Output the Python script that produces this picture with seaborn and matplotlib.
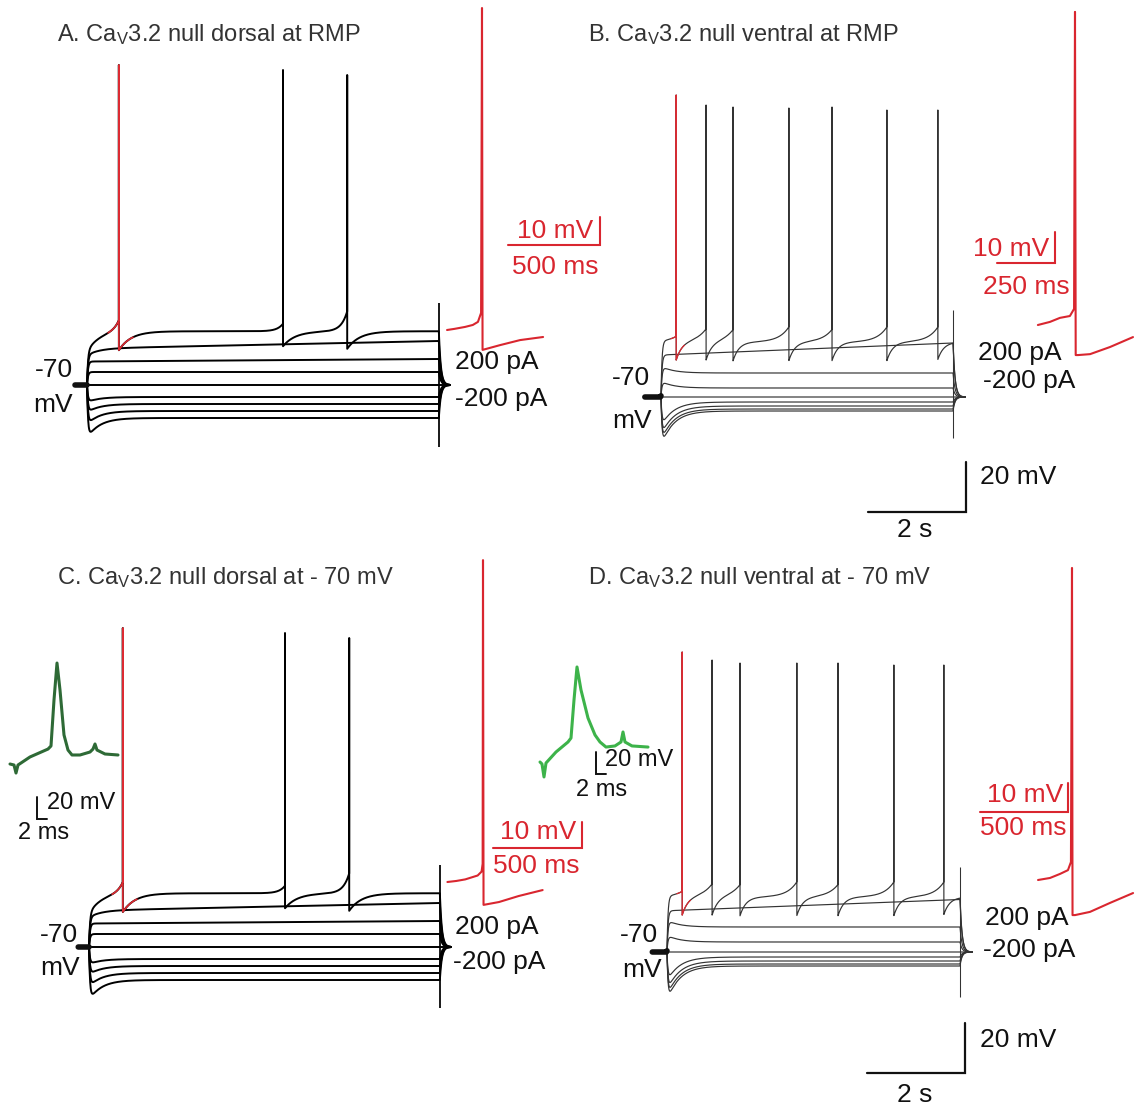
import numpy as np
import matplotlib
matplotlib.use("Agg")
import matplotlib.pyplot as plt
import seaborn as sns

sns.set_theme(style="white")
plt.rcParams['font.family'] = ['Liberation Sans', 'DejaVu Sans']
plt.rcParams['mathtext.fontset'] = 'custom'
plt.rcParams['mathtext.rm'] = 'Liberation Sans'
plt.rcParams['mathtext.it'] = 'Liberation Sans:italic'

W, H = 1136, 1106

# ------------------------------------------------------------------ data
currents_pA = [200, 150, 100, 50, 0, -50, -100, -150, -200]

# Panel A  (dorsal, RMP) - steady level, early sag, slow drift (mV) per current step
A_ss = [-48.5, -52.4, -59.6, -64.8, -70.0, -74.8, -77.6, -80.4, -83.2]
A_sag = [-6.0, -2.0, 0.0, 0.0, 0.0, -1.5, -2.5, -4.0, -6.0]
A_drift = [0.0, 3.0, 1.0, 0.0, 0.0, 0.0, 0.0, 0.0, 0.0]
A_spike_t = [0.65, 4.00, 5.31]
A_spike_peak = [58.0, 56.0, 54.0]
A_spike_pre = [5.0, 3.0, 8.0]
A_spike_ahp = [7.0, 6.0, 7.0]

# Panel B  (ventral, RMP)
B_ss = [-48.0, -48.4, -60.4, -66.4, -70.0, -72.0, -73.6, -74.8, -75.6]
B_sag = [0.0, 0.0, 2.0, 2.0, 0.0, -7.2, -8.8, -9.6, -10.4]
B_drift = [0.0, 4.8, 0.0, 0.0, 0.0, 0.0, 0.0, 0.0, 0.0]
B_spike_t = [0.31, 0.92, 1.47, 2.61, 3.49, 4.61, 5.65]
B_spike_peak = [50.8, 46.8, 46.0, 45.6, 46.0, 44.8, 44.8]
B_spike_pre = [2.0, 5.0, 5.0, 6.0, 5.0, 6.0, 6.0]
B_spike_ahp = [7.5, 7.5, 7.5, 7.5, 7.5, 7.5, 7.0]

# Panel C  (dorsal, -70 mV)
C_ss = [-48.5, -52.4, -59.6, -64.8, -70.0, -74.8, -77.6, -80.4, -83.2]
C_sag = [-6.0, -2.0, 0.0, 0.0, 0.0, -1.5, -2.5, -4.0, -6.0]
C_drift = [0.0, 3.0, 1.0, 0.0, 0.0, 0.0, 0.0, 0.0, 0.0]
C_spike_t = [0.69, 4.00, 5.31]
C_spike_peak = [57.6, 55.6, 53.6]
C_spike_pre = [5.0, 3.0, 8.0]
C_spike_ahp = [7.0, 6.0, 7.0]

# Panel D  (ventral, -70 mV)
D_ss = [-48.0, -49.0, -60.0, -66.0, -70.0, -72.0, -73.6, -74.8, -75.6]
D_sag = [0.0, 0.0, 2.0, 2.0, 0.0, -7.2, -8.8, -9.6, -10.4]
D_drift = [0.0, 4.5, 0.0, 0.0, 0.0, 0.0, 0.0, 0.0, 0.0]
D_spike_t = [0.31, 0.92, 1.49, 2.65, 3.49, 4.63, 5.65]
D_spike_peak = [50.0, 46.8, 45.6, 45.6, 45.6, 44.8, 44.8]
D_spike_pre = [2.0, 5.0, 5.0, 6.0, 5.0, 6.0, 6.0]
D_spike_ahp = [7.5, 7.5, 7.5, 7.5, 7.5, 7.5, 7.0]

# expanded first spikes (red insets): time (ms) vs membrane potential (mV)
A_zoom_t = [-190, -150, -92, -50, -22, -5, 0, 3, 20, 98, 207, 332]
A_zoom_v = [-50.0, -49.6, -48.9, -48.2, -47.1, -43.9, 65.0, -57.1, -56.8, -55.4, -53.6, -52.5]
B_zoom_t = [-160, -108, -65, -22, -4, 0, 3, 13, 65, 151, 250]
B_zoom_v = [-50.0, -49.0, -47.7, -47.1, -44.8, 51.0, -59.7, -59.7, -59.4, -57.1, -53.9]
C_zoom_t = [-200, -150, -100, -30, -8, -2, 0, 3, 90, 200, 335]
C_zoom_v = [-50.0, -49.6, -49.0, -47.5, -46.0, -43.0, 73.8, -58.8, -57.7, -55.4, -53.1]
D_zoom_t = [-193, -125, -68, -23, -6, 0, 3, 17, 102, 216, 347]
D_zoom_v = [-50.0, -49.3, -47.9, -46.6, -43.8, 57.6, -62.1, -62.1, -61.0, -57.9, -54.5]

# single action potentials (green insets): time (ms) vs mV
C_ap_t = [0, 0.8, 1.2, 1.6, 4.0, 7.6, 8.2, 8.8, 9.4, 10.0, 10.8, 11.6, 12.4, 14.0, 16.0, 16.6, 17.0, 17.4, 19.0, 21.6]
C_ap_v = [-59.1, -60.0, -67.3, -60.0, -52.7, -45.5, -42.7, -0.9, 32.7, 8.2, -32.7, -46.4, -50.9, -50.9, -48.2, -45.5, -40.9, -46.4, -50.0, -50.9]
D_ap_t = [0, 0.4, 0.8, 1.2, 3.2, 5.6, 6.2, 6.8, 7.4, 8.2, 9.6, 11.0, 12.0, 13.2, 15.0, 16.2, 16.6, 17.0, 18.4, 21.6]
D_ap_v = [-59.1, -60.9, -72.7, -60.0, -50.0, -40.9, -37.3, -2.7, 27.3, 6.4, -19.1, -34.5, -40.9, -45.5, -44.5, -40.9, -31.8, -40.9, -44.5, -45.5]

# ------------------------------------------------------------------ helpers
fig = plt.figure(figsize=(W / 100, H / 100), dpi=100)


def overlay(x0, y0, sx, sy, v0):
    """Full-figure transparent axes: data (0, v0) sits at pixel (x0, y0)."""
    ax = fig.add_axes([0, 0, 1, 1])
    ax.set_xlim(-x0 / sx, (W - x0) / sx)
    ax.set_ylim(v0 - (H - y0) / sy, v0 + y0 / sy)
    ax.axis('off')
    ax.patch.set_alpha(0)
    return ax


def px2data(ax, xp, yp):
    return ax.transData.inverted().transform((xp, H - yp))


def line(ax, x, y, color, lw, z=2):
    sns.lineplot(x=np.asarray(x, float), y=np.asarray(y, float), ax=ax, color=color,
                 linewidth=lw, sort=False, estimator=None, legend=False, zorder=z)


TAU_M, TAU_S, TAU_OFF = 0.02, 0.25, 0.04
_tt = np.linspace(0, 3, 6000)
FMAX = np.max(np.exp(-_tt / TAU_S) - np.exp(-_tt / TAU_M))


def step_v(t, v_ss, sag, drift, T, v_rest=-70.0):
    v = np.full_like(t, v_rest)
    on = (t >= 0) & (t <= T)
    ts = t[on]
    f = (np.exp(-ts / TAU_S) - np.exp(-ts / TAU_M)) / FMAX
    v[on] = v_rest + (v_ss - drift - v_rest) * (1 - np.exp(-ts / TAU_M)) + sag * f + drift * ts / T
    off = t > T
    fe = (np.exp(-T / TAU_S) - np.exp(-T / TAU_M)) / FMAX
    v_end = v_rest + (v_ss - drift - v_rest) * (1 - np.exp(-T / TAU_M)) + sag * fe + drift
    v[off] = v_rest + (v_end - v_rest) * np.exp(-(t[off] - T) / TAU_OFF)
    return v


def time_grid(T, t_pre, t_post, extra=()):
    g = np.concatenate([np.linspace(-t_pre, 0, 30), np.linspace(0, T, 1800),
                        np.linspace(T, T + t_post, 40), np.asarray(extra, float)])
    return np.unique(g)


def spiking_trace(v_ss, sag, drift, T, t_pre, t_post, sp_t, sp_pk, sp_pre, sp_ahp,
                  tau_pre, tau_ahp):
    extra = []
    for s in sp_t:
        extra += [s - 4e-4, s, s + 4e-4]
    t = time_grid(T, t_pre, t_post, extra)
    v = step_v(t, v_ss, sag, drift, T)
    on = (t >= 0) & (t <= T)
    for s, a_pre, a_ahp in zip(sp_t, sp_pre, sp_ahp):
        b = on & (t < s)
        v[b] += a_pre * np.exp((t[b] - s) / tau_pre)
        a = on & (t >= s)
        v[a] -= a_ahp * np.exp(-(t[a] - s) / tau_ahp)
    for s, pk in zip(sp_t, sp_pk):
        v[np.isclose(t, s, atol=1e-6)] = pk
    return t, v


def draw_panel(x0, y0, T, t_pre, t_post, ss, sag, drift, sp_t, sp_pk, sp_pre, sp_ahp,
               color, lw, red_lw, red_win, art, tau_pre, tau_ahp):
    ax = overlay(x0, y0, 49.0, 2.5, -70.0)
    # subthreshold steps (bottom first)
    for i in range(len(ss) - 1, 0, -1):
        t = time_grid(T, t_pre, t_post)
        v = step_v(t, ss[i], sag[i], drift[i], T)
        line(ax, t, v, color, lw)
    # spiking step
    t, v = spiking_trace(ss[0], sag[0], drift[0], T, t_pre, t_post, sp_t, sp_pk,
                         sp_pre, sp_ahp, tau_pre, tau_ahp)
    line(ax, t, v, color, lw)
    m = (t >= red_win[0]) & (t <= red_win[1])
    line(ax, t[m], v[m], '#dc2a32', red_lw, z=4)
    # holding-potential marker
    pre = t <= 0
    line(ax, t[pre], v[pre], '#111111', 4.0, z=3)
    # end-of-step artifact
    ax.vlines([T], art[0], art[1], color=color, lw=lw * 0.9, zorder=2)
    return ax


def sb_right(ax, xp, yp, dx, dy, color, lw):
    x, y = px2data(ax, xp, yp)
    ax.plot([x, x + dx, x + dx], [y, y, y + dy], color=color, lw=lw, solid_joinstyle='miter')


def sb_left(ax, xp, yp, dx, dy, color, lw):
    x, y = px2data(ax, xp, yp)
    ax.plot([x, x, x + dx], [y + dy, y, y], color=color, lw=lw, solid_joinstyle='miter')


def txt(xp, yp, s, size=19, color='#111111', ha='left'):
    fig.text(xp / W, 1 - yp / H, s, fontsize=size, color=color, ha=ha, va='center')


RED = '#d9262f'

# ------------------------------------------------------------------ panel A
axA = draw_panel(87, 385, 7.18, 0.245, 0.22, A_ss, A_sag, A_drift, A_spike_t, A_spike_peak,
                 A_spike_pre, A_spike_ahp, '#000000', 1.4, 1.2, (0.43, 0.94), (-94.8, -37.2),
                 0.12, 0.25)
axAr = overlay(482, 330, 0.184, 2.8, -50.0)
line(axAr, A_zoom_t, A_zoom_v, RED, 1.5)
sb_right(axAr, 508, 245, 500, 10, RED, 1.5)
txt(555, 231, "10 mV", color=RED, ha='center')
txt(555, 267, "500 ms", color=RED, ha='center')

# ------------------------------------------------------------------ panel B
axB = draw_panel(661, 397, 5.96, 0.33, 0.25, B_ss, B_sag, B_drift, B_spike_t, B_spike_peak,
                 B_spike_pre, B_spike_ahp, '#333333', 0.85, 0.9, (0.2, 0.48), (-86.4, -35.2),
                 0.2, 0.12)
sb_right(axB, 868, 512, 2.0, 20.0, '#111111', 1.6)
axBr = overlay(1075, 325, 0.232, 3.1, -50.0)
line(axBr, B_zoom_t, B_zoom_v, RED, 1.5)
sb_right(axBr, 997, 263, 250, 10, RED, 1.5)
txt(973, 249, "10 mV", color=RED)
txt(983, 287, "250 ms", color=RED)

# ------------------------------------------------------------------ panel C
axC = draw_panel(89, 947, 7.16, 0.22, 0.22, C_ss, C_sag, C_drift, C_spike_t, C_spike_peak,
                 C_spike_pre, C_spike_ahp, '#000000', 1.4, 1.2, (0.47, 0.98), (-94.4, -37.2),
                 0.12, 0.25)
axCr = overlay(483, 882, 0.178, 2.6, -50.0)
line(axCr, C_zoom_t, C_zoom_v, RED, 1.5)
sb_right(axCr, 493, 848, 500, 10, RED, 1.5)
txt(500, 832, "10 mV", color=RED)
txt(493, 866, "500 ms", color=RED)
axCg = overlay(10, 765, 5.0, 1.1, -60.0)
line(axCg, C_ap_t, C_ap_v, '#2e6a36', 2.2)
sb_left(axCg, 37, 819, 2.0, 20.0, '#111111', 1.4)
txt(47, 803, "20 mV", size=17)
txt(18, 833, "2 ms", size=17)

# ------------------------------------------------------------------ panel D
axD = draw_panel(667, 952, 5.98, 0.3, 0.25, D_ss, D_sag, D_drift, D_spike_t, D_spike_peak,
                 D_spike_pre, D_spike_ahp, '#333333', 0.85, 0.9, (0.2, 0.48), (-88.0, -36.0),
                 0.2, 0.12)
sb_right(axD, 867, 1073, 2.0, 20.0, '#111111', 1.6)
axDr = overlay(1072, 880, 0.176, 2.9, -50.0)
line(axDr, D_zoom_t, D_zoom_v, RED, 1.5)
sb_right(axDr, 980, 812, 500, 10, RED, 1.5)
txt(987, 795, "10 mV", color=RED)
txt(980, 828, "500 ms", color=RED)
axDg = overlay(540, 763, 5.0, 1.1, -60.0)
line(axDg, D_ap_t, D_ap_v, '#3db34a', 2.2)
sb_left(axDg, 596, 774, 2.0, 20.0, '#111111', 1.4)
txt(605, 760, "20 mV", size=17)
txt(576, 790, "2 ms", size=17)

# ------------------------------------------------------------------ labels
titles = [(57, 35, r"A. Ca$_\mathregular{V}$3.2 null dorsal at RMP"),
          (588, 35, r"B. Ca$_\mathregular{V}$3.2 null ventral at RMP"),
          (57, 578, r"C. Ca$_\mathregular{V}$3.2 null dorsal at - 70 mV"),
          (588, 578, r"D. Ca$_\mathregular{V}$3.2 null ventral at - 70 mV")]
for xp, yp, s in titles:
    txt(xp, yp, s, size=17, color='#333333')

for (x70, y70), (xmv, ymv) in [((35, 370), (33, 405)), ((612, 378), (612, 421)),
                               ((40, 935), (40, 968)), ((620, 935), (622, 970))]:
    txt(x70, y70, "-70")
    txt(xmv, ymv, "mV")

for (xa, ya), (xb, yb) in [((455, 362), (455, 399)), ((978, 353), (983, 381)),
                           ((455, 927), (453, 962)), ((985, 918), (983, 950))]:
    txt(xa, ya, f"{currents_pA[0]} pA")
    txt(xb, yb, f"{currents_pA[-1]} pA")

txt(980, 477, "20 mV")
txt(915, 530, "2 s", ha='center')
txt(980, 1040, "20 mV")
txt(915, 1095, "2 s", ha='center')

fig.savefig("out.png", dpi=100, facecolor='white')
